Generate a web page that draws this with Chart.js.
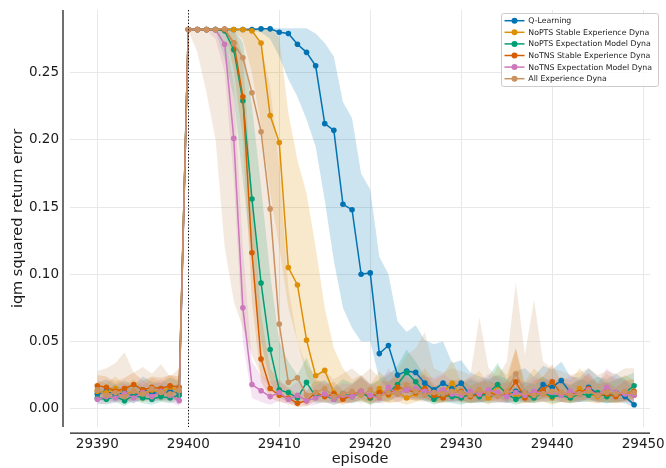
<!DOCTYPE html>
<html><head><meta charset="utf-8">
<style>html,body{margin:0;padding:0;background:#fff;}canvas{display:block;}</style>
<script src="https://cdn.jsdelivr.net/npm/chart.js@4.4.1/dist/chart.umd.min.js"></script>
</head><body>
<canvas id="c" width="666" height="468"></canvas>
<script>
const episodes = [29390,29391,29392,29393,29394,29395,29396,29397,29398,29399,
29400,29401,29402,29403,29404,29405,29406,29407,29408,29409,
29410,29411,29412,29413,29414,29415,29416,29417,29418,29419,
29420,29421,29422,29423,29424,29425,29426,29427,29428,29429,
29430,29431,29432,29433,29434,29435,29436,29437,29438,29439,
29440,29441,29442,29443,29444,29445,29446,29447,29448,29449];
const xTicks = [29390,29400,29410,29420,29430,29440,29450];
const yTicks = [0,0.05,0.10,0.15,0.20,0.25];
const dividerEpisode = 29400;
const seriesNames = ['Q-Learning','NoPTS Stable Experience Dyna','NoPTS Expectation Model Dyna','NoTNS Stable Experience Dyna','NoTNS Expectation Model Dyna','All Experience Dyna'];
const seriesColors = ['#0173B2','#DE8F05','#029E73','#D55E00','#CC78BC','#CA9161'];

const qLearning = [0.011,0.013,0.010,0.012,0.009,0.014,0.012,0.011,0.013,0.012,
0.282,0.282,0.282,0.282,0.282,0.282,0.282,0.282,0.2825,0.2825,
0.280,0.279,0.271,0.265,0.255,0.212,0.207,0.152,0.148,0.100,
0.101,0.041,0.047,0.025,0.028,0.027,0.019,0.014,0.019,0.015,
0.019,0.010,0.012,0.009,0.011,0.010,0.013,0.012,0.010,0.018,
0.016,0.021,0.012,0.011,0.016,0.011,0.010,0.012,0.009,0.003];
const qLearningLo = [0.006,0.007,0.005,0.007,0.004,0.008,0.006,0.006,0.007,0.006,
0.281,0.281,0.281,0.281,0.281,0.281,0.281,0.281,0.280,0.275,
0.262,0.245,0.232,0.215,0.195,0.155,0.110,0.075,0.060,0.050,
0.050,0.022,0.015,0.008,0.008,0.007,0.006,0.006,0.006,0.005,
0.006,0.004,0.005,0.004,0.005,0.004,0.006,0.005,0.005,0.008,
0.007,0.009,0.005,0.005,0.007,0.005,0.004,0.005,0.004,0.001];
const qLearningHi = [0.019,0.022,0.018,0.021,0.017,0.024,0.020,0.019,0.023,0.020,
0.283,0.283,0.283,0.283,0.283,0.283,0.283,0.283,0.283,0.283,
0.283,0.283,0.283,0.283,0.279,0.272,0.262,0.228,0.216,0.175,
0.163,0.113,0.100,0.065,0.057,0.062,0.051,0.048,0.050,0.034,
0.036,0.027,0.024,0.022,0.025,0.022,0.028,0.030,0.024,0.032,
0.029,0.035,0.024,0.023,0.030,0.024,0.022,0.026,0.022,0.014];

const noptsStable = [0.013,0.012,0.015,0.011,0.013,0.010,0.014,0.012,0.016,0.013,
0.282,0.282,0.282,0.282,0.282,0.282,0.282,0.281,0.272,0.218,
0.198,0.105,0.092,0.051,0.0245,0.0285,0.012,0.009,0.011,0.013,
0.008,0.015,0.010,0.012,0.008,0.011,0.015,0.010,0.012,0.019,
0.009,0.011,0.014,0.008,0.017,0.012,0.010,0.009,0.012,0.011,
0.008,0.012,0.010,0.015,0.011,0.009,0.013,0.010,0.012,0.010];
const noptsStableLo = [0.007,0.006,0.009,0.005,0.007,0.005,0.008,0.006,0.009,0.007,
0.281,0.281,0.281,0.281,0.281,0.281,0.275,0.250,0.210,0.160,
0.120,0.075,0.050,0.025,0.012,0.010,0.005,0.004,0.005,0.006,
0.003,0.007,0.004,0.005,0.003,0.005,0.007,0.004,0.005,0.009,
0.004,0.005,0.006,0.003,0.008,0.005,0.004,0.004,0.005,0.005,
0.003,0.005,0.004,0.007,0.005,0.004,0.006,0.004,0.005,0.004];
const noptsStableHi = [0.021,0.019,0.024,0.018,0.022,0.017,0.023,0.020,0.025,0.021,
0.283,0.283,0.283,0.283,0.283,0.283,0.283,0.283,0.283,0.283,
0.276,0.220,0.185,0.160,0.120,0.075,0.045,0.030,0.022,0.025,
0.018,0.028,0.020,0.024,0.018,0.022,0.030,0.021,0.025,0.036,
0.020,0.023,0.028,0.018,0.032,0.025,0.045,0.020,0.030,0.023,
0.018,0.024,0.021,0.030,0.023,0.019,0.026,0.021,0.025,0.021];

const noptsExpect = [0.008,0.007,0.009,0.006,0.010,0.008,0.007,0.009,0.008,0.010,
0.282,0.282,0.282,0.282,0.281,0.267,0.229,0.156,0.0935,0.044,
0.014,0.012,0.008,0.0196,0.009,0.010,0.007,0.011,0.009,0.012,
0.008,0.011,0.012,0.018,0.027,0.020,0.012,0.007,0.010,0.009,
0.008,0.011,0.009,0.012,0.018,0.011,0.007,0.010,0.008,0.012,
0.009,0.010,0.008,0.011,0.010,0.012,0.009,0.011,0.012,0.017];
const noptsExpectLo = [0.004,0.003,0.005,0.002,0.006,0.004,0.003,0.005,0.004,0.006,
0.281,0.281,0.281,0.281,0.260,0.232,0.170,0.110,0.050,0.020,
0.008,0.005,0.003,0.010,0.004,0.005,0.003,0.005,0.004,0.006,
0.003,0.005,0.006,0.009,0.012,0.009,0.006,0.003,0.005,0.004,
0.003,0.005,0.004,0.006,0.009,0.005,0.003,0.005,0.004,0.006,
0.004,0.005,0.004,0.005,0.005,0.006,0.004,0.005,0.006,0.009];
const noptsExpectHi = [0.016,0.014,0.018,0.013,0.019,0.016,0.014,0.018,0.016,0.019,
0.283,0.283,0.283,0.283,0.283,0.283,0.272,0.225,0.165,0.100,
0.050,0.035,0.025,0.038,0.020,0.021,0.016,0.022,0.019,0.024,
0.018,0.022,0.025,0.032,0.044,0.035,0.024,0.016,0.020,0.019,
0.018,0.022,0.019,0.024,0.034,0.022,0.016,0.020,0.018,0.024,
0.019,0.020,0.017,0.022,0.020,0.024,0.019,0.022,0.024,0.027];

const notnsStable = [0.017,0.016,0.013,0.015,0.018,0.014,0.016,0.015,0.017,0.016,
0.282,0.282,0.282,0.282,0.282,0.272,0.232,0.116,0.037,0.015,
0.010,0.008,0.004,0.006,0.012,0.009,0.011,0.007,0.010,0.013,
0.009,0.012,0.011,0.016,0.014,0.012,0.015,0.010,0.008,0.012,
0.013,0.009,0.011,0.012,0.010,0.011,0.020,0.008,0.012,0.014,
0.020,0.011,0.010,0.012,0.015,0.010,0.011,0.009,0.012,0.013];
const notnsStableLo = [0.010,0.009,0.007,0.008,0.011,0.008,0.009,0.008,0.010,0.009,
0.281,0.281,0.281,0.281,0.281,0.252,0.200,0.080,0.020,0.008,
0.005,0.004,0.001,0.002,0.006,0.004,0.005,0.003,0.005,0.007,
0.004,0.006,0.005,0.009,0.007,0.006,0.008,0.005,0.004,0.006,
0.007,0.004,0.005,0.006,0.005,0.005,0.010,0.004,0.006,0.007,
0.010,0.005,0.005,0.006,0.008,0.005,0.005,0.004,0.006,0.007];
const notnsStableHi = [0.025,0.024,0.020,0.023,0.027,0.021,0.024,0.023,0.025,0.024,
0.283,0.283,0.283,0.283,0.283,0.283,0.262,0.160,0.070,0.030,
0.020,0.016,0.010,0.013,0.022,0.018,0.020,0.014,0.018,0.023,
0.017,0.021,0.020,0.027,0.024,0.021,0.026,0.018,0.015,0.021,
0.022,0.017,0.020,0.021,0.018,0.020,0.045,0.016,0.021,0.024,
0.033,0.020,0.018,0.021,0.026,0.018,0.020,0.016,0.021,0.022];

const notnsExpect = [0.007,0.009,0.008,0.011,0.008,0.012,0.009,0.013,0.010,0.006,
0.282,0.282,0.282,0.282,0.271,0.201,0.075,0.018,0.0134,0.009,
0.012,0.007,0.010,0.006,0.008,0.011,0.007,0.010,0.009,0.013,
0.010,0.008,0.016,0.011,0.014,0.015,0.013,0.012,0.014,0.011,
0.010,0.013,0.011,0.014,0.012,0.009,0.012,0.010,0.013,0.011,
0.012,0.010,0.013,0.011,0.014,0.010,0.016,0.012,0.011,0.010];
const notnsExpectLo = [0.003,0.004,0.004,0.006,0.004,0.007,0.004,0.007,0.005,0.002,
0.281,0.281,0.281,0.275,0.250,0.170,0.050,0.008,0.005,0.003,
0.006,0.003,0.004,0.002,0.003,0.005,0.003,0.005,0.004,0.007,
0.005,0.004,0.008,0.005,0.007,0.008,0.007,0.006,0.007,0.005,
0.005,0.007,0.005,0.007,0.006,0.004,0.006,0.005,0.007,0.005,
0.006,0.005,0.007,0.005,0.007,0.005,0.008,0.006,0.005,0.005];
const notnsExpectHi = [0.014,0.017,0.015,0.019,0.015,0.021,0.017,0.022,0.018,0.013,
0.283,0.283,0.283,0.283,0.283,0.240,0.120,0.035,0.025,0.020,
0.022,0.015,0.020,0.014,0.017,0.021,0.015,0.019,0.018,0.025,
0.019,0.016,0.030,0.021,0.026,0.028,0.024,0.023,0.026,0.021,
0.019,0.024,0.021,0.026,0.023,0.018,0.023,0.019,0.024,0.021,
0.023,0.019,0.025,0.021,0.027,0.019,0.030,0.023,0.021,0.019];

const allExperience = [0.014,0.010,0.012,0.009,0.013,0.011,0.015,0.012,0.011,0.014,
0.282,0.282,0.282,0.282,0.2825,0.2716,0.261,0.235,0.206,0.1486,
0.063,0.0196,0.023,0.010,0.012,0.015,0.009,0.011,0.013,0.010,
0.014,0.009,0.012,0.011,0.018,0.013,0.010,0.012,0.011,0.013,
0.012,0.010,0.014,0.011,0.009,0.013,0.026,0.012,0.010,0.011,
0.013,0.012,0.010,0.011,0.013,0.010,0.012,0.011,0.013,0.012];
const allExperienceLo = [0.007,0.005,0.006,0.004,0.007,0.005,0.008,0.006,0.005,0.007,
0.281,0.265,0.235,0.200,0.120,0.080,0.060,0.040,0.025,0.015,
0.010,0.006,0.007,0.004,0.005,0.006,0.004,0.005,0.006,0.004,
0.006,0.004,0.005,0.005,0.008,0.006,0.005,0.005,0.005,0.006,
0.005,0.004,0.006,0.005,0.004,0.006,0.012,0.005,0.004,0.005,
0.006,0.005,0.004,0.005,0.006,0.004,0.005,0.005,0.006,0.005];
const allExperienceHi = [0.028,0.030,0.034,0.042,0.027,0.031,0.026,0.033,0.024,0.030,
0.283,0.283,0.283,0.283,0.283,0.283,0.283,0.283,0.270,0.240,
0.180,0.090,0.050,0.032,0.025,0.028,0.022,0.026,0.030,0.024,
0.030,0.023,0.027,0.028,0.040,0.045,0.057,0.030,0.027,0.030,
0.028,0.025,0.068,0.030,0.024,0.035,0.094,0.040,0.081,0.035,
0.030,0.028,0.025,0.027,0.030,0.025,0.028,0.026,0.030,0.030];

const means = [qLearning, noptsStable, noptsExpect, notnsStable, notnsExpect, allExperience];
const lows = [qLearningLo, noptsStableLo, noptsExpectLo, notnsStableLo, notnsExpectLo, allExperienceLo];
const highs = [qLearningHi, noptsStableHi, noptsExpectHi, notnsStableHi, notnsExpectHi, allExperienceHi];

function rgba(hex, a) {
  const n = parseInt(hex.slice(1), 16);
  return `rgba(${(n >> 16) & 255},${(n >> 8) & 255},${n & 255},${a})`;
}
const toXY = arr => arr.map((v, i) => ({x: episodes[i], y: v}));

const datasets = [];
seriesNames.forEach((name, k) => {
  datasets.push({label: name + ' upper', isBand: true, data: toXY(highs[k]), borderColor: 'rgba(0,0,0,0)', borderWidth: 0,
    pointRadius: 0, backgroundColor: rgba(seriesColors[k], 0.2), fill: '+1', order: 300 - k, tension: 0});
  datasets.push({label: name + ' lower', isBand: true, data: toXY(lows[k]), borderColor: 'rgba(0,0,0,0)', borderWidth: 0,
    pointRadius: 0, backgroundColor: 'rgba(0,0,0,0)', fill: false, order: 300 - k, tension: 0});
  datasets.push({label: name, isBand: false, data: toXY(means[k]), borderColor: seriesColors[k], backgroundColor: seriesColors[k],
    borderWidth: 1.5, pointRadius: 2.8, pointBorderWidth: 0, pointBackgroundColor: seriesColors[k], fill: false, order: 100 - k, tension: 0});
});

const FONT = 'DejaVu Sans';
const TEXT = '#1a1a1a';

const decor = {
  id: 'decor',
  afterDatasetsDraw(chart) {
    const {ctx, chartArea: a, scales: {x}} = chart;
    const px = Math.round(x.getPixelForValue(dividerEpisode)) + 0.5;
    ctx.save();
    ctx.strokeStyle = '#000';
    ctx.lineWidth = 1;
    ctx.setLineDash([1.2, 2]);
    ctx.beginPath(); ctx.moveTo(px, a.top); ctx.lineTo(px, a.bottom); ctx.stroke();
    ctx.restore();
  },
  afterDraw(chart) {
    const {ctx, chartArea: a} = chart;
    ctx.save();
    ctx.strokeStyle = TEXT;
    ctx.lineWidth = 1.25;
    ctx.beginPath();
    ctx.moveTo(a.left - 7, a.top); ctx.lineTo(a.left - 7, a.bottom);
    ctx.moveTo(a.left, a.bottom + 6); ctx.lineTo(a.right, a.bottom + 6);
    ctx.stroke();
    // legend
    const lines = chart.data.datasets.filter(d => !d.isBand);
    const bx = 501.5, by = 13.5, bw = 157, bh = 73, r = 2;
    ctx.beginPath();
    ctx.moveTo(bx + r, by); ctx.lineTo(bx + bw - r, by); ctx.quadraticCurveTo(bx + bw, by, bx + bw, by + r);
    ctx.lineTo(bx + bw, by + bh - r); ctx.quadraticCurveTo(bx + bw, by + bh, bx + bw - r, by + bh);
    ctx.lineTo(bx + r, by + bh); ctx.quadraticCurveTo(bx, by + bh, bx, by + bh - r);
    ctx.lineTo(bx, by + r); ctx.quadraticCurveTo(bx, by, bx + r, by);
    ctx.closePath();
    ctx.fillStyle = 'rgba(255,255,255,0.8)'; ctx.fill();
    ctx.strokeStyle = '#cccccc'; ctx.lineWidth = 1; ctx.stroke();
    ctx.font = `7.8px "${FONT}"`;
    ctx.textBaseline = 'middle';
    ctx.textAlign = 'left';
    lines.forEach((d, i) => {
      const y = 20.7 + i * 11.6;
      ctx.strokeStyle = d.borderColor; ctx.lineWidth = 1.5;
      ctx.beginPath(); ctx.moveTo(504.5, y); ctx.lineTo(524.5, y); ctx.stroke();
      ctx.fillStyle = d.borderColor;
      ctx.beginPath(); ctx.arc(514.5, y, 3, 0, Math.PI * 2); ctx.fill();
      ctx.fillStyle = TEXT;
      ctx.fillText(d.label, 528.3, y + 0.5);
    });
    ctx.restore();
  }
};

new Chart(document.getElementById('c'), {
  type: 'line',
  data: {datasets},
  options: {
    responsive: false,
    animation: false,
    devicePixelRatio: 1,
    events: [],
    layout: {padding: {left: 0, right: 16, top: 10, bottom: 0}},
    plugins: {legend: {display: false}, tooltip: {enabled: false}, filler: {propagate: false}},
    scales: {
      x: {
        type: 'linear', min: 29387.0, max: 29450.75,
        afterBuildTicks: s => { s.ticks = xTicks.map(v => ({value: v})); },
        afterFit: s => { s.height = 41; s.paddingLeft = 0; s.paddingRight = 0; },
        grid: {color: '#e8e8e8', lineWidth: 1, drawTicks: false},
        border: {display: false},
        ticks: {padding: 9, autoSkip: false, maxRotation: 0, color: TEXT, font: {family: FONT, size: 13.5}, callback: v => String(v)},
        title: {display: true, text: 'episode', color: TEXT, font: {family: FONT, size: 14.5}, padding: {top: 0, bottom: 0}}
      },
      y: {
        type: 'linear', min: -0.0136, max: 0.2965,
        afterBuildTicks: s => { s.ticks = yTicks.map(v => ({value: v})); },
        afterFit: s => { s.width = 70; s.paddingTop = 0; s.paddingBottom = 0; },
        grid: {color: '#e8e8e8', lineWidth: 1, drawTicks: false},
        border: {display: false},
        ticks: {padding: 11, autoSkip: false, color: TEXT, font: {family: FONT, size: 13.5}, callback: v => v.toFixed(2)},
        title: {display: true, text: 'iqm squared return error', color: TEXT, font: {family: FONT, size: 14.5}, padding: {top: 9.3, bottom: 0}}
      }
    }
  },
  plugins: [decor]
});
</script>
</body></html>
